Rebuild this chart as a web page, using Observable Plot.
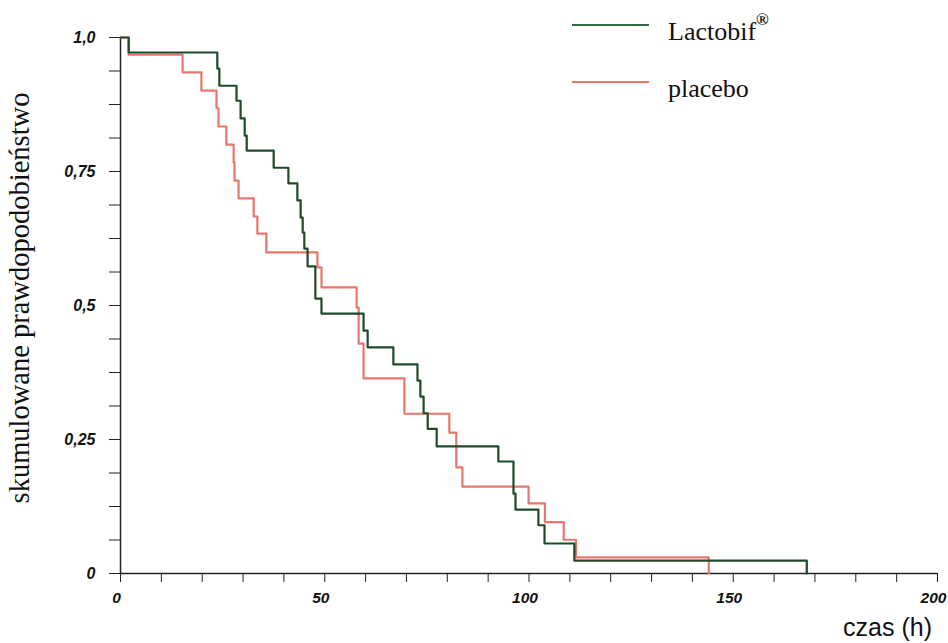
<!DOCTYPE html>
<html>
<head>
<meta charset="utf-8">
<script src="https://cdn.jsdelivr.net/npm/d3@7"></script>
<script src="https://cdn.jsdelivr.net/npm/@observablehq/plot@0.6"></script>
<style>
  body { margin: 0; background: #fff; }
  #chart svg { display: block; }
  #chart svg text.serif { font-family: 'Liberation Serif', 'Times New Roman', serif; }
  #chart svg text.sans { font-family: 'Liberation Sans', Arial, sans-serif; }
</style>
</head>
<body>
<div id="chart"></div>
<script>
// Kaplan-Meier step data
const lactoTime = [0, 2, 23.7, 24.2, 28.4, 29.4, 30.4, 30.9, 37.5, 41.1, 43.3, 44.1, 44.6, 45.0, 45.8, 47.7, 49.2, 59.5, 60.5, 66.8, 72.7, 73.4, 74.2, 75.2, 77.4, 92.5, 96.2, 96.7, 102.3, 103.8, 111.1, 168];
const lactoSurv = [1, 0.972, 0.942, 0.910, 0.882, 0.849, 0.817, 0.789, 0.757, 0.728, 0.696, 0.664, 0.636, 0.606, 0.573, 0.513, 0.485, 0.453, 0.422, 0.390, 0.360, 0.330, 0.299, 0.270, 0.237, 0.209, 0.149, 0.119, 0.090, 0.056, 0.024, 0];

const placeboTime = [0, 2, 15.2, 19.8, 23.5, 24.0, 25.9, 27.7, 27.9, 28.9, 32.6, 33.5, 35.7, 48.2, 49.2, 57.8, 58.3, 59.5, 69.5, 80.5, 82.2, 83.7, 99.9, 103.9, 108.5, 111.5, 144];
const placeboSurv = [1, 0.968, 0.935, 0.901, 0.868, 0.834, 0.800, 0.767, 0.733, 0.700, 0.666, 0.634, 0.599, 0.571, 0.534, 0.496, 0.429, 0.364, 0.298, 0.263, 0.198, 0.162, 0.131, 0.096, 0.063, 0.030, 0];

const seriesNames = ["Lactobif", "placebo"];
const seriesColors = ["#1f4a2a", "#e8766d"];
const legendColors = ["#2f6b3c", "#e8766d"];

const xTicks = [0, 50, 100, 150, 200];
const xTickLabels = ["0", "50", "100", "150", "200"];
const yTicks = [0, 0.25, 0.5, 0.75, 1];
const yTickLabels = ["0", "0,25", "0,5", "0,75", "1,0"];
const xMinorStep = 10;
const yMinorStep = 0.0625;

const xLabel = "czas (h)";
const yLabel = "skumulowane prawdopodobieństwo";

const lactoRows = lactoTime.map((t, i) => ({t, s: lactoSurv[i]}));
const placeboRows = placeboTime.map((t, i) => ({t, s: placeboSurv[i]}));

const chart = Plot.plot({
  width: 948,
  height: 643,
  marginLeft: 120,
  marginRight: 11,
  marginTop: 37,
  marginBottom: 70,
  x: {domain: [0, 200]},
  y: {domain: [0, 1]},
  style: {fontFamily: "'Liberation Sans', Arial, sans-serif", background: "#fff", color: "#111"},
  marks: [
    Plot.axisX({ticks: d3.range(0, 200.001, xMinorStep), tickSize: 9, tickFormat: () => "", label: null, stroke: "#222"}),
    Plot.axisX({ticks: xTicks, tickSize: 0, tickPadding: 18, dx: -4, tickFormat: d => xTickLabels[xTicks.indexOf(d)],
      fontSize: 15.5, fontStyle: "italic", fontWeight: "bold", label: null}),
    Plot.axisY({ticks: d3.range(0, 1.0001, yMinorStep), tickSize: 11, tickFormat: () => "", label: null, stroke: "#222"}),
    Plot.axisY({ticks: yTicks, tickSize: 0, tickPadding: 25, tickFormat: d => yTickLabels[yTicks.indexOf(d)],
      fontSize: 16, fontStyle: "italic", fontWeight: "bold", label: null}),
    Plot.ruleY([0], {stroke: "#222", strokeWidth: 1.5}),
    Plot.ruleX([0], {stroke: "#222", strokeWidth: 1.5}),
    Plot.lineY(placeboRows, {x: "t", y: "s", curve: "step-after", stroke: seriesColors[1], strokeWidth: 2.2}),
    Plot.lineY(lactoRows, {x: "t", y: "s", curve: "step-after", stroke: seriesColors[0], strokeWidth: 2.2})
  ]
});

document.getElementById("chart").appendChild(chart);

const svg = d3.select(chart);
// y-axis title
svg.append("text")
  .attr("class", "serif")
  .attr("transform", "translate(29,298) rotate(-90)")
  .attr("text-anchor", "middle")
  .style("font-size", "28.5px")
  .attr("fill", "#111")
  .text(yLabel);
// x-axis title
svg.append("text")
  .attr("class", "sans")
  .attr("x", 932).attr("y", 636)
  .attr("text-anchor", "end")
  .style("font-size", "25px")
  .attr("fill", "#111")
  .text(xLabel);
// legend
const legend = svg.append("g").attr("fill", "#111");
const legY = [25, 82];
seriesNames.forEach((name, i) => {
  legend.append("line").attr("x1", 572).attr("x2", 649).attr("y1", legY[i]).attr("y2", legY[i])
    .attr("stroke", legendColors[i]).attr("stroke-width", 2.2);
  const t = legend.append("text").attr("class", "serif").attr("x", 668).attr("y", legY[i] + 15)
    .attr("text-anchor", "start").style("font-size", "26px").text(name);
  if (i === 0) t.append("tspan").attr("dy", -15).style("font-size", "17px").style("font-weight", "bold").text("®");
});
</script>
</body>
</html>
